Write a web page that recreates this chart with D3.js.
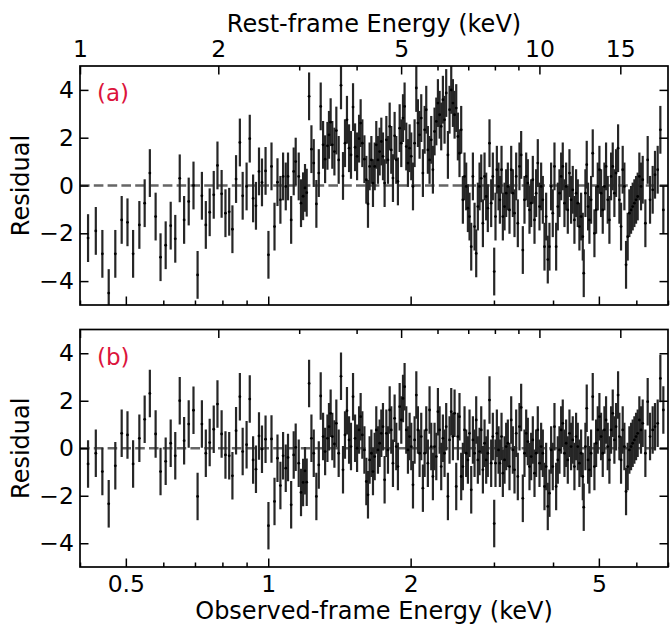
<!DOCTYPE html>
<html>
<head>
<meta charset="utf-8">
<script src="https://cdn.jsdelivr.net/npm/d3@7"></script>
<style>
	body { margin: 0; background: white; }
	svg text { font-family: "DejaVu Sans", sans-serif; }
</style>
</head>
<body>
<svg id="residual-plot" width="670" height="625"></svg>
<script>

// observed-frame energy of each bin (keV), shared by both fits
const energy = [
	0.416,0.432,0.446,0.460,0.475,0.490,0.504,0.518,0.534,0.548,
	0.562,0.578,0.592,0.607,0.622,0.636,0.650,0.664,0.679,0.695,
	0.709,0.724,0.738,0.752,0.767,0.781,0.797,0.812,0.827,0.840,
	0.855,0.871,0.883,0.900,0.914,0.929,0.942,0.956,0.970,0.987,
	1.001,1.016,1.031,1.046,1.061,1.075,1.089,1.101,1.118,1.132,
	1.143,1.160,1.173,1.185,1.196,1.206,1.220,1.234,1.248,1.264,
	1.279,1.291,1.306,1.319,1.334,1.344,1.355,1.366,1.380,1.393,
	1.409,1.425,1.439,1.453,1.467,1.482,1.496,1.511,1.526,1.541,
	1.556,1.568,1.581,1.597,1.612,1.625,1.638,1.652,1.665,1.679,
	1.692,1.706,1.720,1.734,1.748,1.762,1.777,1.791,1.806,1.820,
	1.835,1.850,1.865,1.880,1.896,1.911,1.927,1.942,1.958,1.974,
	1.990,2.006,2.023,2.039,2.056,2.072,2.089,2.106,2.123,2.141,
	2.158,2.175,2.193,2.211,2.229,2.247,2.266,2.284,2.303,2.321,
	2.340,2.359,2.378,2.398,2.417,2.437,2.457,2.477,2.497,2.517,
	2.537,2.558,2.579,2.600,2.621,2.643,2.664,2.686,2.708,2.730,
	2.752,2.774,2.797,2.820,2.843,2.866,2.889,2.912,2.936,2.960,
	2.984,3.004,3.023,3.043,3.068,3.088,3.113,3.133,3.159,3.184,
	3.210,3.236,3.263,3.289,3.316,3.343,3.370,3.397,3.425,3.453,
	3.481,3.510,3.538,3.567,3.596,3.625,3.655,3.684,3.714,3.745,
	3.775,3.806,3.837,3.868,3.899,3.931,3.963,3.995,4.028,4.061,
	4.094,4.127,4.161,4.194,4.229,4.263,4.298,4.333,4.368,4.403,
	4.439,4.475,4.512,4.548,4.586,4.623,4.645,4.683,4.713,4.744,
	4.775,4.814,4.853,4.893,4.933,4.973,5.013,5.054,5.095,5.137,
	5.178,5.220,5.263,5.306,5.349,5.392,5.436,5.490,5.525,5.570,
	5.615,5.661,5.707,5.753,5.800,5.848,5.895,5.943,5.992,6.040,
	6.089,6.139,6.189,6.270,6.341,6.414,6.497,6.571,6.657,6.744,
	6.843
];

// residuals (sigma) of model (a)
const residualA = [
	-2.2,-1.9,-2.86,-4.5,-2.86,-1.44,-1.54,-2.86,-1.65,-0.74,
	0.52,-1.3,-3.0,-2.5,-1.68,-2.23,0.3,-1.44,-0.67,0.0,
	-3.74,-0.43,-1.65,-1.12,-0.39,0.84,-0.35,-1.16,-1.1,-1.83,
	0.27,1.8,-0.43,-0.04,1.96,-0.54,-0.85,0.59,0.13,0.61,
	-2.9,0.8,-1.72,0.14,-0.6,0.38,-0.04,0.38,-1.44,0.59,
	1.0,0.38,-0.74,-0.45,-0.1,-0.3,3.73,1.52,0.94,-0.77,
	0.52,3.31,1.7,1.1,1.66,2.12,2.65,1.7,1.42,2.3,
	1.07,4.19,0.4,1.77,2.75,1.56,1.28,3.28,1.6,1.22,
	1.96,2.61,1.77,1.1,0.24,-0.77,0.8,1.07,0.1,0.8,
	1.7,1.07,1.42,1.84,1.22,0.1,1.91,1.07,2.47,1.49,
	0.31,2.08,1.07,0.17,2.4,1.77,2.82,3.31,1.63,0.94,
	1.56,1.22,-0.04,1.77,4.08,2.61,2.12,2.82,0.52,2.33,
	3.17,1.49,1.07,1.91,0.66,2.26,2.68,3.45,2.96,2.47,
	3.59,2.75,3.87,1.28,3.17,4.0,3.45,2.96,3.24,2.05,
	1.35,2.33,-0.6,0.38,-0.04,-0.95,-1.3,-2.56,0.38,-1.72,
	-2.84,-0.88,-0.04,0.3,-1.58,0.38,-0.46,-0.95,1.77,-0.74,
	0.38,-3.6,-1.3,0.66,-0.04,-0.6,0.66,-1.3,-0.88,-0.32,
	-0.04,-1.02,0.66,-0.32,-1.16,0.38,-1.58,0.8,1.28,-2.7,
	-0.6,0.38,0.1,-1.02,-0.74,0.24,-1.44,-0.32,0.94,-0.88,
	-0.04,-0.6,-2.56,-1.3,-3.1,-2.56,-0.04,-1.16,0.8,-2.56,
	-0.88,-0.32,0.38,0.8,-0.74,-0.04,-1.02,0.52,-0.6,-0.18,
	-1.44,-0.32,-0.74,-1.72,-1.3,-2.14,-3.67,-0.32,0.87,-0.88,
	-1.44,-0.6,1.35,-2.0,-1.02,-0.04,0.66,-0.32,-1.02,-0.04,
	0.8,-0.6,-1.44,0.38,0.8,-0.32,0.52,1.56,-0.6,-1.72,
	0.66,-0.04,-3.32,-2.14,-1.16,-1.02,-0.88,-0.74,-0.6,-0.46,
	0.38,-0.04,0.24,-1.58,1.07,-0.6,-0.18,0.45,0.66,2.33,
	-1.02
];

// residuals (sigma) of model (b)
const residualB = [
	-0.66,-0.21,-0.98,-2.34,-0.74,0.63,0.56,-0.66,0.42,1.22,
	2.31,0.6,-0.98,-0.55,0.21,-0.32,2.0,0.32,1.02,1.6,
	-2.03,1.02,-0.21,0.24,0.8,1.86,0.6,-0.28,-0.32,-1.16,
	0.74,2.17,-0.14,0.15,2.07,-0.49,-0.88,0.52,-0.04,0.38,
	-3.26,0.39,-2.24,-0.42,-1.57,-0.32,-0.84,-0.39,-2.38,-0.28,
	0.04,-0.63,-1.86,-1.44,-0.95,-1.43,2.73,0.42,-0.21,-2.03,
	-0.7,2.2,0.49,-0.14,0.42,0.91,1.47,0.49,0.18,1.05,
	-0.21,3.03,-0.91,0.56,1.58,0.35,0.07,2.17,0.42,0.0,
	0.77,1.33,0.56,-0.07,-1.4,-1.96,-0.49,-0.21,-0.98,-0.35,
	0.77,-0.07,0.21,0.63,0.91,-1.33,0.63,-0.07,1.61,0.77,
	-0.63,1.26,0.07,-0.77,1.75,1.19,2.1,2.59,0.77,-0.07,
	0.49,0.07,-1.54,0.35,2.24,0.77,-0.21,0.49,-1.68,-0.21,
	0.77,-0.63,1.61,0.07,-1.19,0.07,-0.35,1.54,0.77,-0.77,
	0.42,-0.21,0.91,-2.03,0.35,1.54,0.49,1.47,-1.61,0.49,
	1.33,-1.19,-0.77,0.77,-0.21,-0.49,0.63,-1.75,0.35,-0.21,
	1.19,-0.49,-0.14,0.77,-0.91,0.21,-0.49,-0.21,2.03,-0.63,
	0.49,-3.17,-0.63,0.63,-0.07,-0.63,0.49,-1.05,-0.49,0.07,
	0.21,-0.77,1.19,-0.07,-0.91,0.63,-1.19,0.91,1.72,-2.11,
	-0.21,0.63,0.28,-0.77,-0.35,0.35,-1.05,-0.21,0.77,-0.63,
	0.07,-0.21,-1.61,-0.77,-2.45,-1.89,-0.07,-0.77,0.91,-1.61,
	-0.49,-0.07,0.77,1.05,-0.21,0.21,-0.49,0.63,0.07,0.35,
	-0.77,0.49,0.07,-0.63,-0.21,-1.19,-2.48,0.07,1.68,-0.49,
	-0.91,-0.21,2.17,-0.77,0.21,0.77,1.33,0.49,-0.21,0.77,
	1.19,0.07,-0.49,0.77,1.47,0.35,0.91,2.24,0.49,-0.49,
	0.77,0.07,-1.82,-0.77,-0.07,0.07,0.21,0.35,0.49,0.63,
	1.19,0.77,1.05,-0.21,1.96,0.49,0.77,0.91,1.05,2.94,
	1.61
];

const panelLabels = ["(a)", "(b)"];

const obsLimits = [0.4, 7.0];
const restLimits = [1, 19.05];
const yLimits = [-5, 5];

const obsMajor = [0.5, 1, 2, 5];
const obsMinor = [0.4, 0.6, 0.7, 0.8, 0.9, 3, 4, 6, 7];
const restMajor = [1, 2, 5, 10, 15];
const restMinor = [3, 4, 6, 7, 8, 9];
const yTicks = [-4, -2, 0, 2, 4];

const TICK_FONT = 23.5;
const LABEL_FONT = 24;
const MAJOR = 8.5, MINOR = 4.5;

const svg = d3.select("#residual-plot");
const left = 80, right = 668;

const x_obs = d3.scaleLog().domain(obsLimits).range([left, right]);
const x_rest = d3.scaleLog().domain(restLimits).range([left, right]);

function styleAxis(g) {
	g.select(".domain").remove();
	g.selectAll(".tick line")
		.attr("stroke", "black")
		.attr("stroke-width", 1.5);
	g.selectAll(".tick text")
		.attr("fill", "black")
		.attr("font-size", TICK_FONT);
}

function drawPanel(idx, top, bottom, residuals, labelTop, labelBottom) {

	const y = d3.scaleLinear().domain(yLimits).range([bottom, top]);
	const g = svg.append("g");

	g.append("clipPath")
		.attr("id", "clip-" + idx)
		.append("rect")
		.attr("x", left)
		.attr("y", top)
		.attr("width", right - left)
		.attr("height", bottom - top);

	// zero line
	g.append("line")
		.attr("x1", left).attr("x2", right)
		.attr("y1", y(0)).attr("y2", y(0))
		.attr("stroke", "#666")
		.attr("stroke-width", 2.6)
		.attr("stroke-dasharray", "9.6,4.2");

	const points = energy.map((e, i) => ({e: e, r: residuals[i]}));

	const data_g = g.append("g").attr("clip-path", "url(#clip-" + idx + ")");

	// 1-sigma error bars
	data_g.selectAll(".errbar")
		.data(points)
		.enter()
		.append("line")
		.classed("errbar", true)
		.attr("x1", d => x_obs(d.e))
		.attr("x2", d => x_obs(d.e))
		.attr("y1", d => y(d.r - 1))
		.attr("y2", d => y(d.r + 1))
		.attr("stroke", "#262626")
		.attr("stroke-width", 2.2);

	data_g.selectAll(".point")
		.data(points)
		.enter()
		.append("circle")
		.classed("point", true)
		.attr("cx", d => x_obs(d.e))
		.attr("cy", d => y(d.r))
		.attr("r", 1.4)
		.attr("fill", "black");

	// bottom: observed frame
	g.append("g")
		.attr("transform", "translate(0," + bottom + ")")
		.call(d3.axisBottom(x_obs).tickValues(obsMajor).tickSize(-MAJOR).tickPadding(8)
			.tickFormat(labelBottom ? d3.format("~g") : () => ""))
		.call(styleAxis);
	g.append("g")
		.attr("transform", "translate(0," + bottom + ")")
		.call(d3.axisBottom(x_obs).tickValues(obsMinor).tickSize(-MINOR).tickFormat(() => ""))
		.call(styleAxis);

	// top: rest frame
	g.append("g")
		.attr("transform", "translate(0," + top + ")")
		.call(d3.axisTop(x_rest).tickValues(restMajor).tickSize(-MAJOR).tickPadding(9.3)
			.tickFormat(labelTop ? d3.format("~g") : () => ""))
		.call(styleAxis);
	g.append("g")
		.attr("transform", "translate(0," + top + ")")
		.call(d3.axisTop(x_rest).tickValues(restMinor).tickSize(-MINOR).tickFormat(() => ""))
		.call(styleAxis);

	g.append("g")
		.attr("transform", "translate(" + left + ",0)")
		.call(d3.axisLeft(y).tickValues(yTicks).tickSize(-MAJOR).tickPadding(6).tickFormat(d3.format("d")))
		.call(styleAxis);
	g.append("g")
		.attr("transform", "translate(" + right + ",0)")
		.call(d3.axisRight(y).tickValues(yTicks).tickSize(-MAJOR).tickFormat(() => ""))
		.call(styleAxis);

	g.append("rect")
		.attr("x", left)
		.attr("y", top)
		.attr("width", right - left)
		.attr("height", bottom - top)
		.attr("fill", "none")
		.attr("stroke", "black")
		.attr("stroke-width", 1.7);

	g.append("text")
		.attr("x", left + 17)
		.attr("y", top + 35)
		.attr("font-size", 23)
		.attr("fill", "crimson")
		.text(panelLabels[idx]);

	g.append("text")
		.attr("transform", "translate(28.5," + ((top + bottom) / 2) + ") rotate(-90)")
		.attr("text-anchor", "middle")
		.attr("font-size", LABEL_FONT)
		.text("Residual");
}

drawPanel(0, 66, 305, residualA, true, false);
drawPanel(1, 329.5, 567, residualB, false, true);

svg.append("text")
	.attr("x", (left + right) / 2)
	.attr("y", 31.5)
	.attr("text-anchor", "middle")
	.attr("font-size", LABEL_FONT)
	.text("Rest-frame Energy (keV)");

svg.append("text")
	.attr("x", (left + right) / 2)
	.attr("y", 619.3)
	.attr("text-anchor", "middle")
	.attr("font-size", LABEL_FONT)
	.text("Observed-frame Energy (keV)");

</script>
</body>
</html>
